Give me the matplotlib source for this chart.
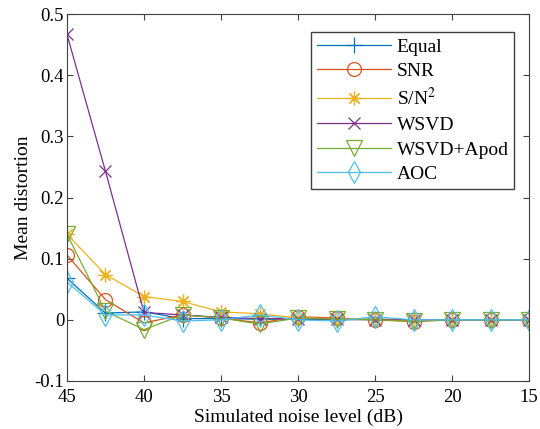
import numpy as np
import matplotlib
matplotlib.use('Agg')
import matplotlib.pyplot as plt

plt.rcParams['font.family'] = ['Liberation Serif', 'DejaVu Serif']
plt.rcParams['mathtext.fontset'] = 'stix'

# noise levels (dB)
noise = [45, 42.5, 40, 37.5, 35, 32.5, 30, 27.5, 25, 22.5, 20, 17.5, 15]

# mean distortion per weighting scheme
equal = [0.068, 0.011, 0.013, 0.002, 0.002, 0.001, 0.001, 0.0, 0.001, 0.0, 0.0, 0.0, 0.0]
snr = [0.106, 0.033, -0.005, 0.008, 0.003, -0.005, 0.005, 0.003, 0.0, -0.003, 0.0, 0.0, 0.0]
sn2 = [0.14, 0.074, 0.038, 0.030, 0.013, 0.010, 0.003, 0.002, 0.001, 0.0, 0.0, 0.0, 0.0]
wsvd = [0.467, 0.243, 0.012, 0.008, 0.004, 0.002, 0.002, 0.001, 0.0, 0.0, 0.0, 0.0, 0.0]
apod = [0.14, 0.014, -0.016, 0.008, 0.003, -0.007, 0.003, 0.001, 0.0, -0.002, 0.0, 0.0, 0.0]
aoc = [0.062, 0.008, 0.008, -0.002, 0.0, 0.008, 0.0, -0.002, 0.005, 0.0, 0.0, 0.0, 0.0]

labels = ['Equal', 'SNR', 'S/N$^2$', 'WSVD', 'WSVD+Apod', 'AOC']
series = [equal, snr, sn2, wsvd, apod, aoc]
colors = ['#0072BD', '#D95319', '#EDB120', '#7E2F8E', '#77AC30', '#4DBEEE']
markers = ['+', 'o', (8, 2, 0), 'x', 'v', 'd']
msizes = [11, 10, 10, 9, 11, 11]

fig = plt.figure(figsize=(5.4, 4.29), dpi=100)
ax = fig.add_axes([0.124, 0.112, 0.856, 0.855])

for y, lab, c, m, ms in zip(series, labels, colors, markers, msizes):
    ax.plot(noise, y, color=c, marker=m, markersize=ms, markerfacecolor='none',
            markeredgewidth=0.9, linewidth=0.9, label=lab)

ax.set_xlim(45, 15)
ax.set_ylim(-0.1, 0.5)
ax.set_xticks([45, 40, 35, 30, 25, 20, 15])
ax.set_yticks([-0.1, 0, 0.1, 0.2, 0.3, 0.4, 0.5])
ax.set_yticklabels(['-0.1', '0', '0.1', '0.2', '0.3', '0.4', '0.5'])
ax.tick_params(direction='in', top=True, right=True, labelsize=13.5, length=4,
               color='#404040', pad=2)
ax.tick_params(axis='x', pad=6)
for s in ax.spines.values():
    s.set_color('#404040')
ax.set_xlabel('Simulated noise level (dB)', fontsize=14, labelpad=2)
ax.set_ylabel('Mean distortion', fontsize=14, labelpad=2)

leg = ax.legend(loc='upper right', bbox_to_anchor=(0.968, 0.951), fontsize=14,
                fancybox=False, edgecolor='#404040', framealpha=1,
                handlelength=3.8, handletextpad=0.3, borderpad=0.3,
                labelspacing=0.36, borderaxespad=0)
leg.get_frame().set_linewidth(1.0)

fig.savefig('out.png', dpi=100)
